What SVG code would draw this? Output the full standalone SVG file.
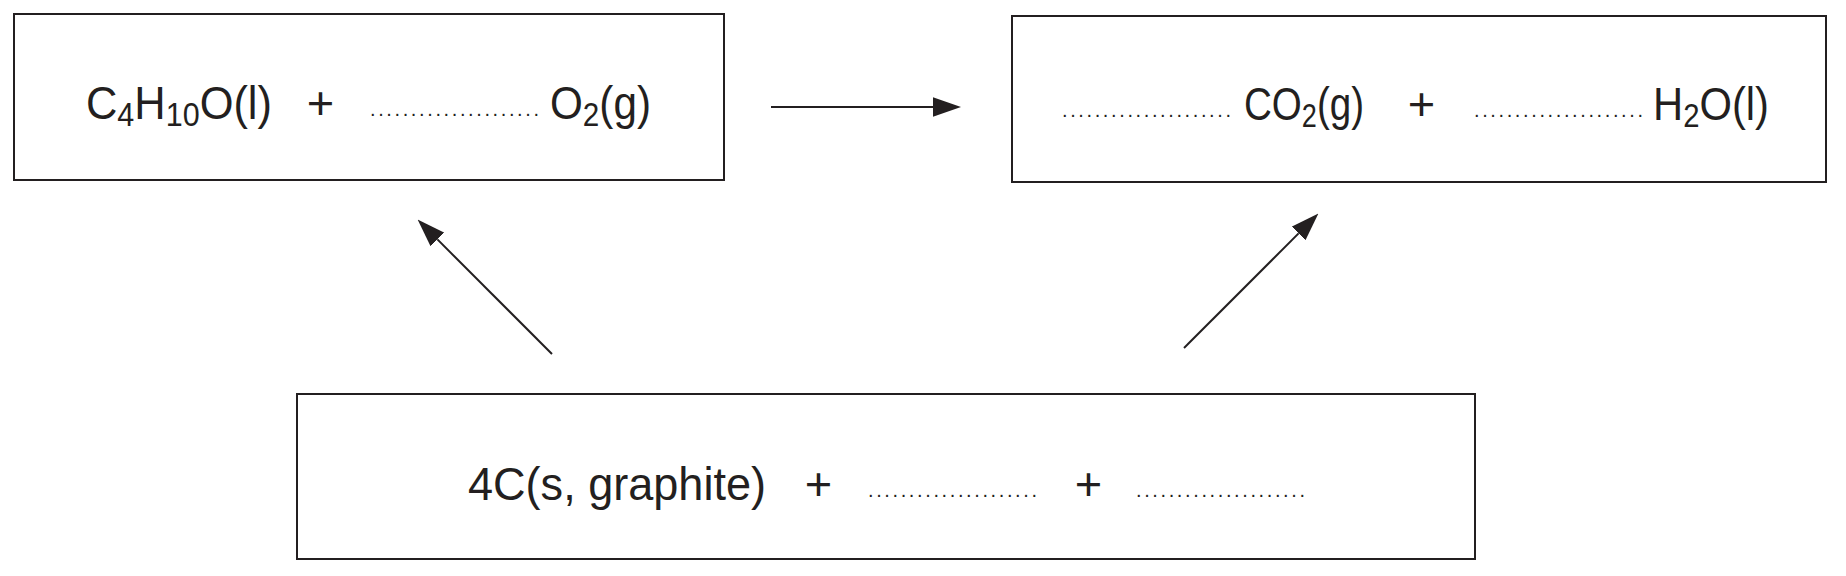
<svg xmlns="http://www.w3.org/2000/svg" width="1846" height="576" viewBox="0 0 1846 576">
<style>
  .box { fill: #ffffff; stroke: #231f20; stroke-width: 2; }
  .t { font-family: "Liberation Sans", Arial, sans-serif; font-size: 47px; fill: #231f20; }
  .sub { font-size: 33px; }
  .dots { font-family: "Liberation Sans", Arial, sans-serif; font-size: 20px; fill: #231f20; }
  .plus { font-family: "Liberation Sans", Arial, sans-serif; font-size: 47px; fill: #231f20; text-anchor: middle; }
  .conn { stroke: #231f20; stroke-width: 2; fill: none; marker-end: url(#ah); }
</style>
<defs>
  <marker id="ah" markerUnits="userSpaceOnUse" markerWidth="28" markerHeight="20" refX="0" refY="9" orient="auto" viewBox="0 0 26 18">
    <path d="M0,0 L26,9 L0,18 z" fill="#231f20"/>
  </marker>
</defs>
<rect width="1846" height="576" fill="#ffffff"/>

<g id="reactants">
  <rect class="box" x="14" y="14" width="710" height="166"/>
  <text class="t" x="86" y="119" textLength="186" lengthAdjust="spacingAndGlyphs">C<tspan class="sub" dy="7">4</tspan><tspan dy="-7">H</tspan><tspan class="sub" dy="7">10</tspan><tspan dy="-7">O(l)</tspan></text>
  <text class="plus" x="320.5" y="119">+</text>
  <text class="dots" x="370" y="116" textLength="169" lengthAdjust="spacing">.....................</text>
  <text class="t" x="550" y="119" textLength="101" lengthAdjust="spacingAndGlyphs">O<tspan class="sub" dy="7">2</tspan><tspan dy="-7">(g)</tspan></text>
</g>

<g id="products">
  <rect class="box" x="1012" y="16" width="814" height="166"/>
  <text class="dots" x="1062" y="117" textLength="169" lengthAdjust="spacing">.....................</text>
  <text class="t" x="1244" y="120" textLength="120" lengthAdjust="spacingAndGlyphs">CO<tspan class="sub" dy="7">2</tspan><tspan dy="-7">(g)</tspan></text>
  <text class="plus" x="1421.5" y="120">+</text>
  <text class="dots" x="1474" y="117" textLength="169" lengthAdjust="spacing">.....................</text>
  <text class="t" x="1653" y="120" textLength="116" lengthAdjust="spacingAndGlyphs">H<tspan class="sub" dy="7">2</tspan><tspan dy="-7">O(l)</tspan></text>
</g>

<g id="elements">
  <rect class="box" x="297" y="394" width="1178" height="165"/>
  <text class="t" x="468" y="500" textLength="298" lengthAdjust="spacingAndGlyphs">4C(s, graphite)</text>
  <text class="plus" x="818.5" y="500">+</text>
  <text class="dots" x="868" y="497" textLength="169" lengthAdjust="spacing">.....................</text>
  <text class="plus" x="1088.5" y="500">+</text>
  <text class="dots" x="1136" y="497" textLength="169" lengthAdjust="spacing">.....................</text>
</g>

<g id="connectors">
  <line class="conn" x1="771" y1="107" x2="933" y2="107"/>
  <line class="conn" x1="552" y1="354" x2="437.4" y2="239.4"/>
  <line class="conn" x1="1184" y1="348" x2="1298.6" y2="233.4"/>
</g>
</svg>
